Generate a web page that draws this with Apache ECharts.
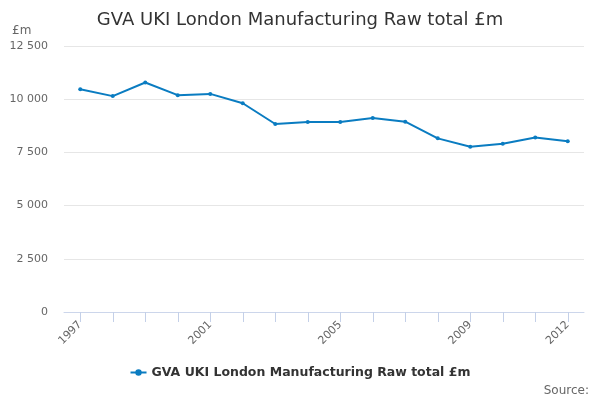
<!DOCTYPE html>
<html style="height: 100%">
<head>
  <meta charset="utf-8">
</head>
<body style="height: 100%; margin: 0">
  <div id="container" style="width: 600px; height: 400px"></div>
  <script src="https://cdn.jsdelivr.net/npm/echarts@6/dist/echarts.min.js"></script>
  <script type="text/javascript">
    // data
    var years = ['1997', '1998', '1999', '2000', '2001', '2002', '2003', '2004',
      '2005', '2006', '2007', '2008', '2009', '2010', '2011', '2012'];
    var gvaValues = [10470, 10145, 10785, 10190, 10250, 9810, 8835, 8930,
      8930, 9115, 8945, 8160, 7765, 7910, 8205, 8020];
    var seriesName = 'GVA UKI London Manufacturing Raw total £m';

    var lineColor = '#0a7cc1';
    var font = '"DejaVu Sans", sans-serif';

    function fmt(v) {
      // thousands separated by a space, like the original
      return String(v).replace(/\B(?=(\d{3})+(?!\d))/g, ' ');
    }

    var myChart = echarts.init(document.getElementById('container'));

    var option = {
      backgroundColor: '#fff',
      title: [{
        text: 'GVA UKI London Manufacturing Raw total £m',
        left: 'center',
        top: 6,
        textStyle: { fontFamily: font, fontSize: 18, fontWeight: 'normal', color: '#333' }
      }, {
        text: '£m',
        left: 7,
        top: 20,
        textStyle: { fontFamily: font, fontSize: 12, fontWeight: 'normal', color: '#666' }
      }, {
        text: 'Source:',
        right: 6,
        top: 380,
        textStyle: { fontFamily: font, fontSize: 12, fontWeight: 'normal', color: '#666' }
      }],
      legend: {
        data: [seriesName],
        bottom: 16,
        left: 'center',
        itemWidth: 16,
        itemHeight: 8,
        itemGap: 5,
        selectedMode: false,
        textStyle: { fontFamily: font, fontSize: 12.5, fontWeight: 'bold', color: '#333' }
      },
      grid: {
        left: 64,
        right: 16,
        top: 46,
        bottom: 88,
        containLabel: false
      },
      xAxis: {
        type: 'category',
        data: years,
        boundaryGap: true,
        axisLine: { lineStyle: { color: '#ccd6eb' } },
        axisTick: {
          show: true,
          alignWithLabel: true,
          interval: 0,
          length: 10,
          lineStyle: { color: '#c4d0e8', width: 1 }
        },
        axisLabel: {
          rotate: 45,
          color: '#666',
          fontFamily: font,
          fontSize: 11,
          margin: 11,
          interval: function (index) {
            return index % 4 === 0 || index === years.length - 1;
          }
        }
      },
      yAxis: {
        type: 'value',
        min: 0,
        max: 12500,
        interval: 2500,
        axisLine: { show: false },
        axisTick: { show: false },
        axisLabel: {
          color: '#666',
          fontFamily: font,
          fontSize: 11,
          margin: 16,
          formatter: fmt
        },
        splitLine: { lineStyle: { color: '#e6e6e6' } }
      },
      series: [{
        name: seriesName,
        type: 'line',
        data: gvaValues,
        symbol: 'circle',
        symbolSize: 4,
        itemStyle: { color: lineColor },
        lineStyle: { color: lineColor, width: 2 }
      }]
    };

    myChart.setOption(option, true);
  </script>
</body>
</html>
